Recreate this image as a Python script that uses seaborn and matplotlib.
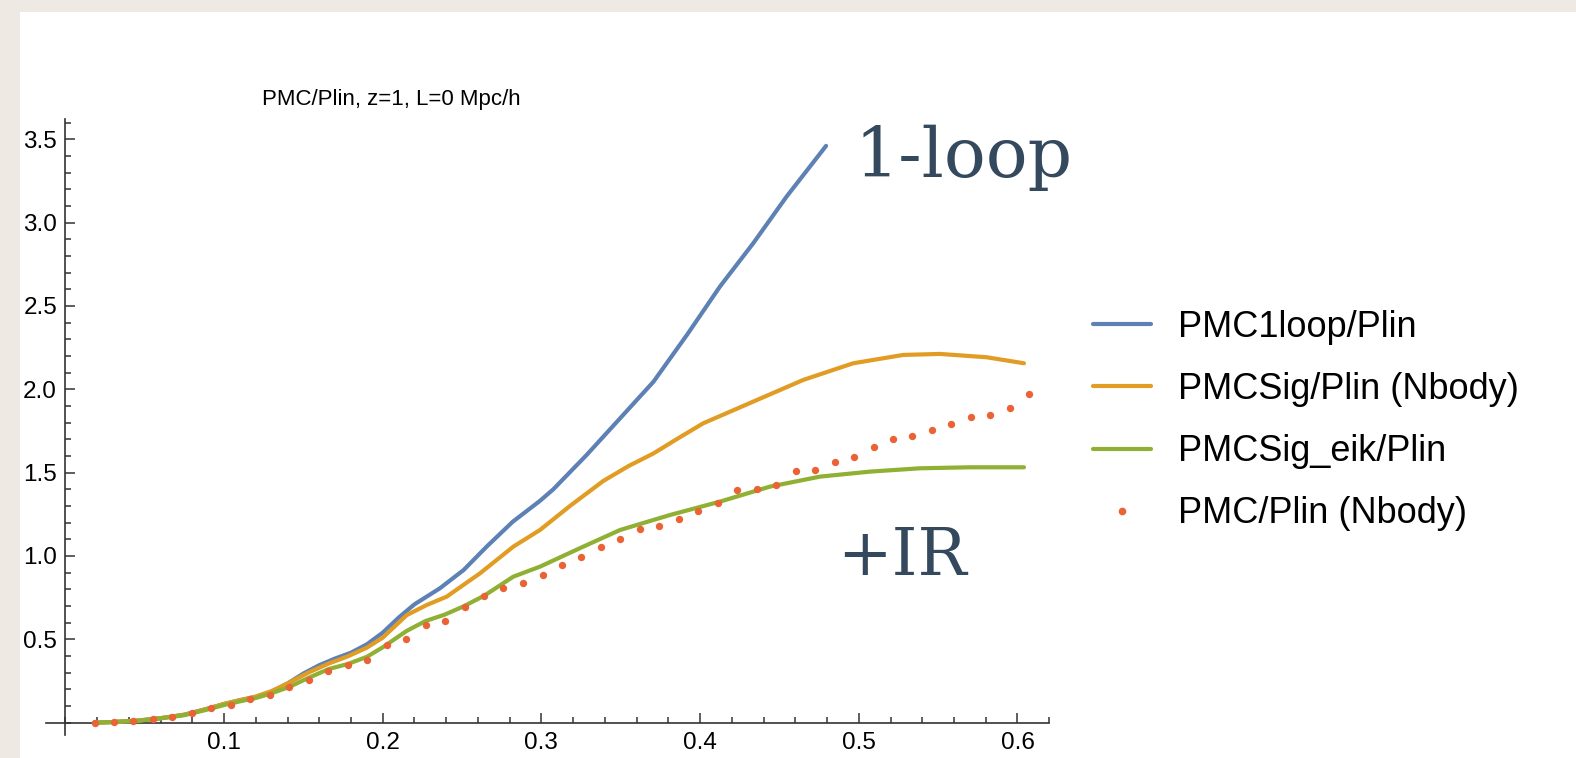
import matplotlib
matplotlib.use("Agg")
import matplotlib.pyplot as plt
import seaborn as sns
import pandas as pd
from matplotlib.ticker import FixedLocator, MultipleLocator
from matplotlib.lines import Line2D
from matplotlib.patches import Rectangle

sns.set_style("ticks")
plt.rcParams["font.family"] = ["Liberation Sans", "DejaVu Sans"]
plt.rcParams["text.color"] = "black"
plt.rcParams["xtick.color"] = "black"
plt.rcParams["ytick.color"] = "black"

# ---- data: ratio to linear power spectrum, z=1 ----
k_1loop = [0.018, 0.030, 0.045, 0.060, 0.075, 0.090, 0.100, 0.110, 0.120, 0.130,
           0.140, 0.150, 0.160, 0.170, 0.180, 0.190, 0.200, 0.210, 0.220, 0.236,
           0.251, 0.2655, 0.282, 0.299, 0.3075, 0.3285, 0.3496, 0.3706, 0.392,
           0.4125, 0.4335, 0.4546, 0.4794]
r_1loop = [0.000, 0.004, 0.012, 0.027, 0.048, 0.085, 0.112, 0.135, 0.155, 0.185,
           0.235, 0.295, 0.345, 0.385, 0.420, 0.470, 0.540, 0.630, 0.710, 0.806,
           0.916, 1.056, 1.206, 1.330, 1.400, 1.606, 1.826, 2.045, 2.330,
           2.616, 2.876, 3.157, 3.460]

k_sig = [0.018, 0.030, 0.045, 0.060, 0.075, 0.090, 0.100, 0.110, 0.120, 0.130,
         0.141, 0.153, 0.166, 0.178, 0.190, 0.200, 0.2151, 0.2275, 0.2403, 0.2613,
         0.2823, 0.2991, 0.318, 0.339, 0.355, 0.3706, 0.386, 0.402, 0.4335, 0.465,
         0.4965, 0.528, 0.5512, 0.5806, 0.6041]
r_sig = [0.000, 0.004, 0.012, 0.027, 0.048, 0.085, 0.113, 0.135, 0.157, 0.190,
         0.240, 0.300, 0.355, 0.398, 0.450, 0.510, 0.645, 0.705, 0.756, 0.896,
         1.056, 1.156, 1.300, 1.450, 1.540, 1.615, 1.705, 1.796, 1.926, 2.056,
         2.156, 2.206, 2.212, 2.192, 2.156]

k_eik = [0.018, 0.030, 0.045, 0.060, 0.075, 0.090, 0.100, 0.110, 0.120, 0.1286,
         0.141, 0.153, 0.166, 0.178, 0.190, 0.200, 0.215, 0.227, 0.239, 0.251,
         0.264, 0.2823, 0.2991, 0.325, 0.3496, 0.3811, 0.4125, 0.444, 0.4755,
         0.507, 0.5385, 0.570, 0.6041]
r_eik = [0.000, 0.004, 0.011, 0.026, 0.045, 0.080, 0.106, 0.128, 0.148, 0.172,
         0.214, 0.268, 0.322, 0.352, 0.395, 0.452, 0.550, 0.610, 0.648, 0.698,
         0.762, 0.876, 0.936, 1.050, 1.156, 1.246, 1.326, 1.416, 1.476,
         1.506, 1.526, 1.532, 1.532]

k_nbody = [0.0184, 0.0307, 0.0429, 0.0552, 0.0675, 0.0798, 0.0920, 0.1043, 0.1166,
           0.1289, 0.1411, 0.1534, 0.1657, 0.1779, 0.1902, 0.2025, 0.2148, 0.2270,
           0.2393, 0.2516, 0.2638, 0.2761, 0.2884, 0.3007, 0.3129, 0.3252, 0.3375,
           0.3497, 0.3620, 0.3743, 0.3866, 0.3988, 0.4111, 0.4234, 0.4357, 0.4479,
           0.4602, 0.4725, 0.4848, 0.4970, 0.5093, 0.5216, 0.5338, 0.5461, 0.5584,
           0.5707, 0.5829, 0.5952, 0.6075]
r_nbody = [0.000, 0.002, 0.010, 0.020, 0.034, 0.056, 0.090, 0.108, 0.142,
           0.168, 0.216, 0.256, 0.310, 0.348, 0.378, 0.466, 0.504, 0.588,
           0.612, 0.692, 0.760, 0.805, 0.838, 0.884, 0.944, 0.993, 1.054,
           1.099, 1.162, 1.180, 1.224, 1.272, 1.316, 1.394, 1.400, 1.424,
           1.510, 1.514, 1.564, 1.592, 1.654, 1.704, 1.722, 1.758, 1.794,
           1.836, 1.844, 1.888, 1.970]

labels = ["PMC1loop/Plin", "PMCSig/Plin (Nbody)", "PMCSig_eik/Plin", "PMC/Plin (Nbody)"]
colors = ["#5E81B5", "#E19C24", "#8FB032", "#EB6235"]
x_ticks = [0.1, 0.2, 0.3, 0.4, 0.5, 0.6]
y_ticks = [0.5, 1.0, 1.5, 2.0, 2.5, 3.0, 3.5]

W, H = 1576, 758
fig = plt.figure(figsize=(W / 100, H / 100), dpi=100)
fig.patch.set_facecolor("#eeeae3")
fig.add_artist(Rectangle((20 / W, 0), 1, 1 - 12 / H, transform=fig.transFigure,
                         facecolor="white", edgecolor="none", zorder=-5))

ax = fig.add_axes([46.3 / W, 1 - 735.2 / H, (1049.2 - 46.3) / W, (735.2 - 119.2) / H])
ax.set_facecolor("none")

curves = [(k_1loop, r_1loop), (k_sig, r_sig), (k_eik, r_eik)]
for (kk, rr), lab, col in zip(curves, labels[:3], colors[:3]):
    df = pd.DataFrame({"k": kk, "ratio": rr})
    sns.lineplot(data=df, x="k", y="ratio", ax=ax, color=col, lw=3.0,
                 sort=False, legend=False, zorder=3)

dots = pd.DataFrame({"k": k_nbody, "ratio": r_nbody})
sns.scatterplot(data=dots, x="k", y="ratio", ax=ax, color=colors[3], s=28,
                linewidth=0, legend=False, zorder=4)

ax.set_xlim(-0.012, 0.62)
ax.set_ylim(-0.075, 3.62)
ax.set_xlabel("")
ax.set_ylabel("")

for side in ("top", "right"):
    ax.spines[side].set_visible(False)
for side in ("left", "bottom"):
    ax.spines[side].set_position(("data", 0))
    ax.spines[side].set_color("#333333")
    ax.spines[side].set_linewidth(1.2)

ax.xaxis.set_major_locator(FixedLocator(x_ticks))
ax.xaxis.set_minor_locator(MultipleLocator(0.02))
ax.yaxis.set_major_locator(FixedLocator(y_ticks))
ax.yaxis.set_minor_locator(MultipleLocator(0.1))
ax.set_xticklabels([f"{t:.1f}" for t in x_ticks])
ax.set_yticklabels([f"{t:.1f}" for t in y_ticks])

ax.tick_params(which="both", direction="in", color="#333333", width=1.1,
               bottom=True, left=True, top=False, right=False)
ax.tick_params(which="major", length=7)
ax.tick_params(which="minor", length=4.5)
ax.tick_params(axis="x", which="major", labelsize=17.5, pad=7, labelcolor="black")
ax.tick_params(axis="y", which="major", labelsize=17.5, pad=6, labelcolor="black")

fig.text(391 / W, 1 - 99 / H, "PMC/Plin, z=1, L=0 Mpc/h", ha="center", va="center",
         fontsize=16, color="black")

serif = ["DejaVu Serif"]
fig.text(855 / W, 1 - 177 / H, "1-loop", ha="left", va="baseline",
         fontsize=50, family=serif, color="#34495E")
fig.text(837 / W, 1 - 575 / H, "+IR", ha="left", va="baseline",
         fontsize=47, family=serif, color="#34495E")

handles = [Line2D([], [], color=c, lw=3.0) for c in colors[:3]]
handles.append(Line2D([], [], ls="none", marker="o", ms=5.5, mew=0, color=colors[3]))
leg = ax.legend(handles, labels, loc="upper left", frameon=False,
                bbox_to_anchor=(1093 / W, 1 - 310 / H), bbox_transform=fig.transFigure,
                fontsize=26, handlelength=1.6, handletextpad=0.75, labelspacing=0.75,
                borderpad=0, borderaxespad=0)
for t in leg.get_texts():
    t.set_color("black")

fig.savefig("out.png", dpi=100)
